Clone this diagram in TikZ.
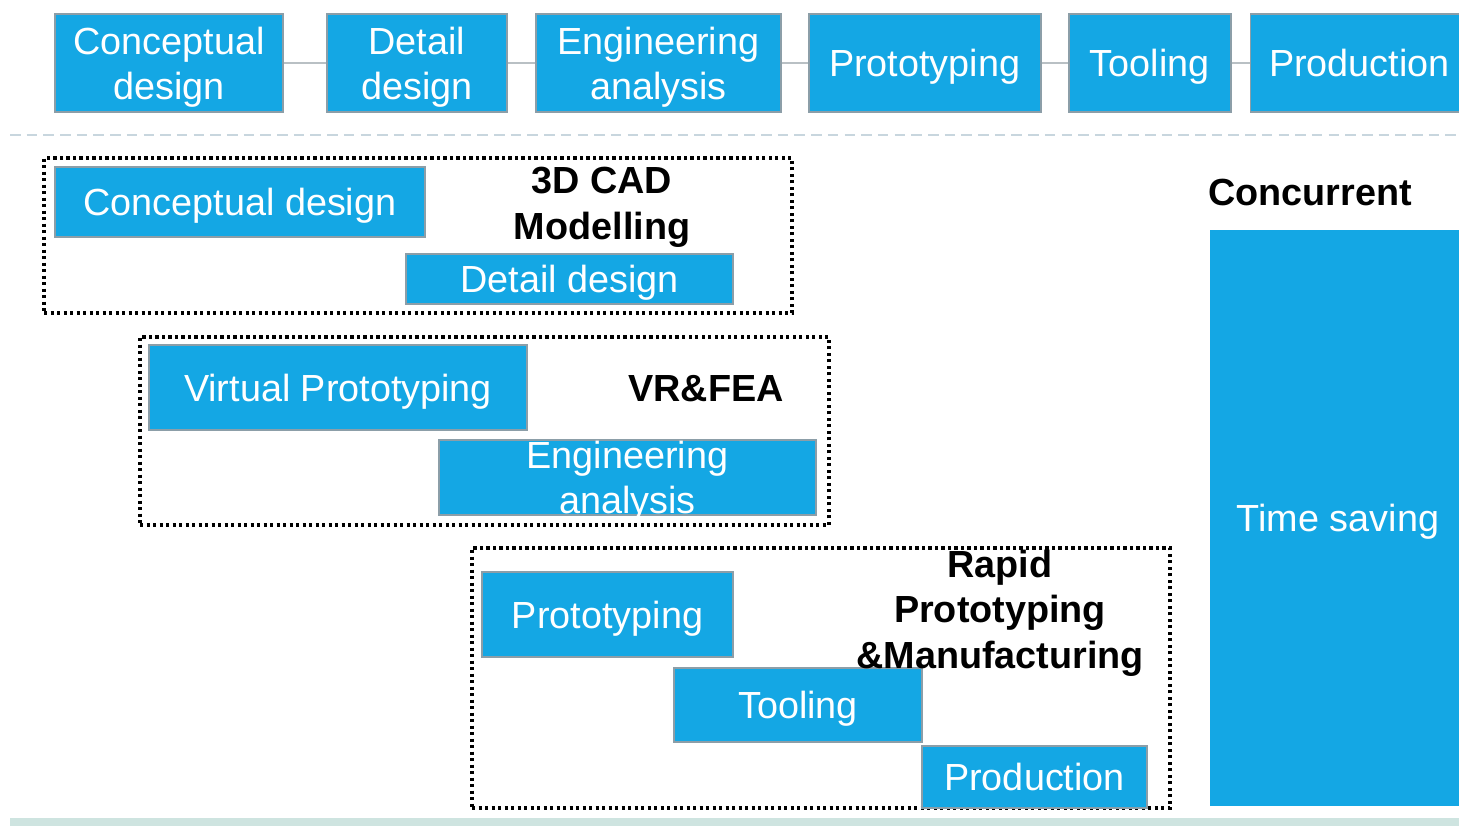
\documentclass[tikz,border=0pt]{standalone}
\usepackage{fontspec}
\setmainfont{Liberation Sans}
\usetikzlibrary{positioning}
\definecolor{boxblue}{RGB}{20,167,228}
\definecolor{boxedge}{RGB}{140,158,168}
\definecolor{linkgray}{RGB}{185,192,196}
\definecolor{sepgray}{RGB}{200,214,222}
\definecolor{bandgreen}{RGB}{206,228,224}

\begin{document}
\begin{tikzpicture}[x=0.02cm, y=-0.02cm,
    base/.style = {rectangle, draw=boxedge, line width=1.1pt, fill=boxblue,
text=white, inner sep=1pt, align=center, text depth=0pt,
font=\fontsize{21.5}{25.5}\selectfont},
    stage/.style = {base, minimum height=1.96cm},
    phase/.style = {base},
    frame/.style = {rectangle, draw=black, line width=1.8pt,
dash pattern=on 1.8pt off 1.9pt, inner sep=0pt},
    caption/.style = {align=center, inner sep=1pt, text depth=0pt,
font=\fontsize{21.5}{26}\selectfont\bfseries},
    link/.style = {draw=linkgray, line width=1.1pt},
    node distance=0.52cm
]

  \clip (0,0) rectangle (1459,826);

  \node (cdTop) [stage, minimum width=4.56cm] at (169,63) {Conceptual\\design};
  \node (ddTop) [stage, minimum width=3.6cm, right=0.84cm of cdTop] {Detail\\design};
  \node (eaTop) [stage, minimum width=4.9cm, right=0.54cm of ddTop] {Engineering\\analysis};
  \node (ptTop) [stage, minimum width=4.64cm, right=of eaTop] {Prototyping};
  \node (tlTop) [stage, minimum width=3.24cm, right=of ptTop] {Tooling};
  \node (pdTop) [stage, minimum width=4.36cm, right=0.36cm of tlTop] {Production};

  \draw[link] (cdTop) -- (ddTop);
  \draw[link] (ddTop) -- (eaTop);
  \draw[link] (eaTop) -- (ptTop);
  \draw[link] (ptTop) -- (tlTop);
  \draw[link] (tlTop) -- (pdTop);

  \coordinate (sepL) at (10,135);
  \coordinate (sepR) at (1459,135);
  \draw[draw=sepgray, line width=1.2pt, dash pattern=on 6pt off 3.5pt] (sepL) -- (sepR);

  \node (cadFrame) [frame, minimum width=14.96cm, minimum height=3.1cm] at (418,235.5) {};
  \node (vrFrame)  [frame, minimum width=13.78cm, minimum height=3.76cm] at (484.5,431) {};
  \node (rpFrame)  [frame, minimum width=13.96cm, minimum height=5.2cm] at (821,678) {};

  \node (cdSub) [phase, minimum width=7.4cm, minimum height=1.4cm] at (240,202) {Conceptual design};
  \node (ddSub) [phase, minimum width=6.54cm, minimum height=1.0cm] at (569.5,279) {Detail design};
  \node (vpSub) [phase, minimum width=7.56cm, minimum height=1.7cm] at (338,387.5) {Virtual Prototyping};
  \node (eaSub) [phase, minimum width=7.54cm, minimum height=1.5cm] at (627.5,477.5) {Engineering\\analysis};
  \node (ptSub) [phase, minimum width=5.02cm, minimum height=1.7cm] at (607.5,614.5) {Prototyping};
  \node (tlSub) [phase, minimum width=4.96cm, minimum height=1.48cm] at (798,705) {Tooling};
  \node (pdSub) [phase, minimum width=4.5cm, minimum height=1.24cm] at (1034.5,777) {Production};

  \node (cadCap) [caption] at (602,203) {3D CAD\\Modelling};
  \node (vrCap)  [caption] at (706,388) {VR\&FEA};
  \node (rpCap)  [caption] at (1000,609) {Rapid\\Prototyping\\\&Manufacturing};
  \node (ccCap)  [caption, anchor=west, inner sep=0pt] at (1208,192) {Concurrent};

  \node (tsBox) [phase, draw=none, minimum width=5.12cm, minimum height=11.52cm] at (1338,518) {Time saving};

  \fill[bandgreen] (10,818) rectangle (1459,826);

\end{tikzpicture}
\end{document}
